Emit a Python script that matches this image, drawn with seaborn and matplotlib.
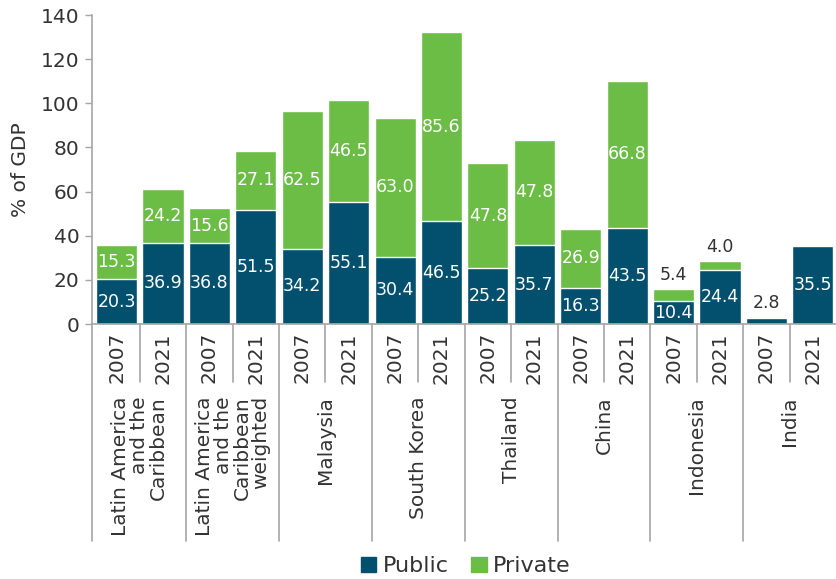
import matplotlib
matplotlib.use("Agg")
import matplotlib.pyplot as plt
import matplotlib.transforms as mtransforms
from matplotlib.patches import Patch
import pandas as pd
import seaborn as sns

groups = ["Latin America\nand the\nCaribbean",
          "Latin America\nand the\nCaribbean\nweighted",
          "Malaysia", "South Korea", "Thailand", "China", "Indonesia", "India"]
years = ["2007", "2021"]
public = [20.3, 36.9, 36.8, 51.5, 34.2, 55.1, 30.4, 46.5,
          25.2, 35.7, 16.3, 43.5, 10.4, 24.4, 2.8, 35.5]
private = [15.3, 24.2, 15.6, 27.1, 62.5, 46.5, 63.0, 85.6,
           47.8, 47.8, 26.9, 66.8, 5.4, 4.0, 0.0, 0.0]

PUBLIC_C = "#02506e"
PRIVATE_C = "#6cbd45"
GREY = "#a6a6a6"
TXT = "#333333"
FS_VAL = 12.5
FS_AX = 14.5

rows = []
for gi, g in enumerate(groups):
    for yi, y in enumerate(years):
        i = gi * 2 + yi
        rows.append({"key": f"{gi}-{y}", "group": g, "year": y,
                     "public": public[i], "private": private[i],
                     "total": public[i] + private[i]})
df = pd.DataFrame(rows)

sns.set_theme(style="white")
plt.rcParams["font.family"] = ["DejaVu Sans"]

fig = plt.figure(figsize=(8.36, 5.79), dpi=100)
ax = fig.add_axes([0.110, 0.4404, 0.89, 0.5336])

order = list(df["key"])
sns.barplot(data=df, x="key", y="total", order=order, color=PRIVATE_C,
            width=0.885, saturation=1, ax=ax, errorbar=None)
sns.barplot(data=df, x="key", y="public", order=order, color=PUBLIC_C,
            width=0.885, saturation=1, ax=ax, errorbar=None)

# value labels
for i, r in df.iterrows():
    pub, pri = r["public"], r["private"]
    if pub >= 8:
        ax.text(i, pub / 2, f"{pub:.1f}", ha="center", va="center",
                color="white", fontsize=FS_VAL)
    else:
        ax.annotate(f"{pub:.1f}", (i, pub + pri), xytext=(0, 4),
                    textcoords="offset points", ha="center", va="bottom",
                    color=TXT, fontsize=FS_VAL)
    if pri >= 8:
        ax.text(i, pub + pri / 2, f"{pri:.1f}", ha="center", va="center",
                color="white", fontsize=FS_VAL)
    elif pri > 0:
        ax.annotate(f"{pri:.1f}", (i, pub + pri), xytext=(0, 4),
                    textcoords="offset points", ha="center", va="bottom",
                    color=TXT, fontsize=FS_VAL)

ax.set_xlim(-0.53, len(df) - 0.5)
ax.set_ylim(0, 140)
ax.set_yticks(range(0, 141, 20))
ax.tick_params(axis="y", length=5, width=1, color=GREY, labelsize=FS_AX,
               labelcolor=TXT, pad=4, left=True)
ax.set_xticks([])
ax.set_xlabel("")
ax.set_ylabel("% of GDP", fontsize=FS_AX, color=TXT, labelpad=8)
for s in ["top", "right"]:
    ax.spines[s].set_visible(False)
for s in ["left", "bottom"]:
    ax.spines[s].set_color(GREY)
    ax.spines[s].set_linewidth(1.2)

# two-level category axis
trans = mtransforms.blended_transform_factory(ax.transData, ax.transAxes)
ax_h = 0.5336 * 5.79 * 100  # axes height in px
def yax(px):
    return -px / ax_h

for i, r in df.iterrows():
    ax.text(i, yax(8), r["year"], rotation=90, ha="center", va="top",
            transform=trans, fontsize=FS_AX, color=TXT)
for gi, g in enumerate(groups):
    ax.text(gi * 2 + 0.5, yax(72), g, rotation=90, ha="center", va="top",
            multialignment="right", linespacing=1.0,
            transform=trans, fontsize=FS_AX, color=TXT)
    x0 = gi * 2 - 0.53 if gi == 0 else gi * 2 - 0.5
    ax.plot([x0, x0], [0, yax(217)], color=GREY, lw=1.2,
            transform=trans, clip_on=False)
    ax.plot([gi * 2 + 0.5] * 2, [0, yax(58)], color=GREY, lw=1.2,
            transform=trans, clip_on=False)

handles = [Patch(color=PUBLIC_C, label="Public"),
           Patch(color=PRIVATE_C, label="Private")]
fig.legend(handles=handles, loc="lower center", ncol=2, frameon=False,
           bbox_to_anchor=(0.557, -0.03), fontsize=16, handlelength=0.7,
           handleheight=0.7, handletextpad=0.3, columnspacing=1.0,
           labelcolor=TXT)

fig.savefig("out.png", dpi=100)
